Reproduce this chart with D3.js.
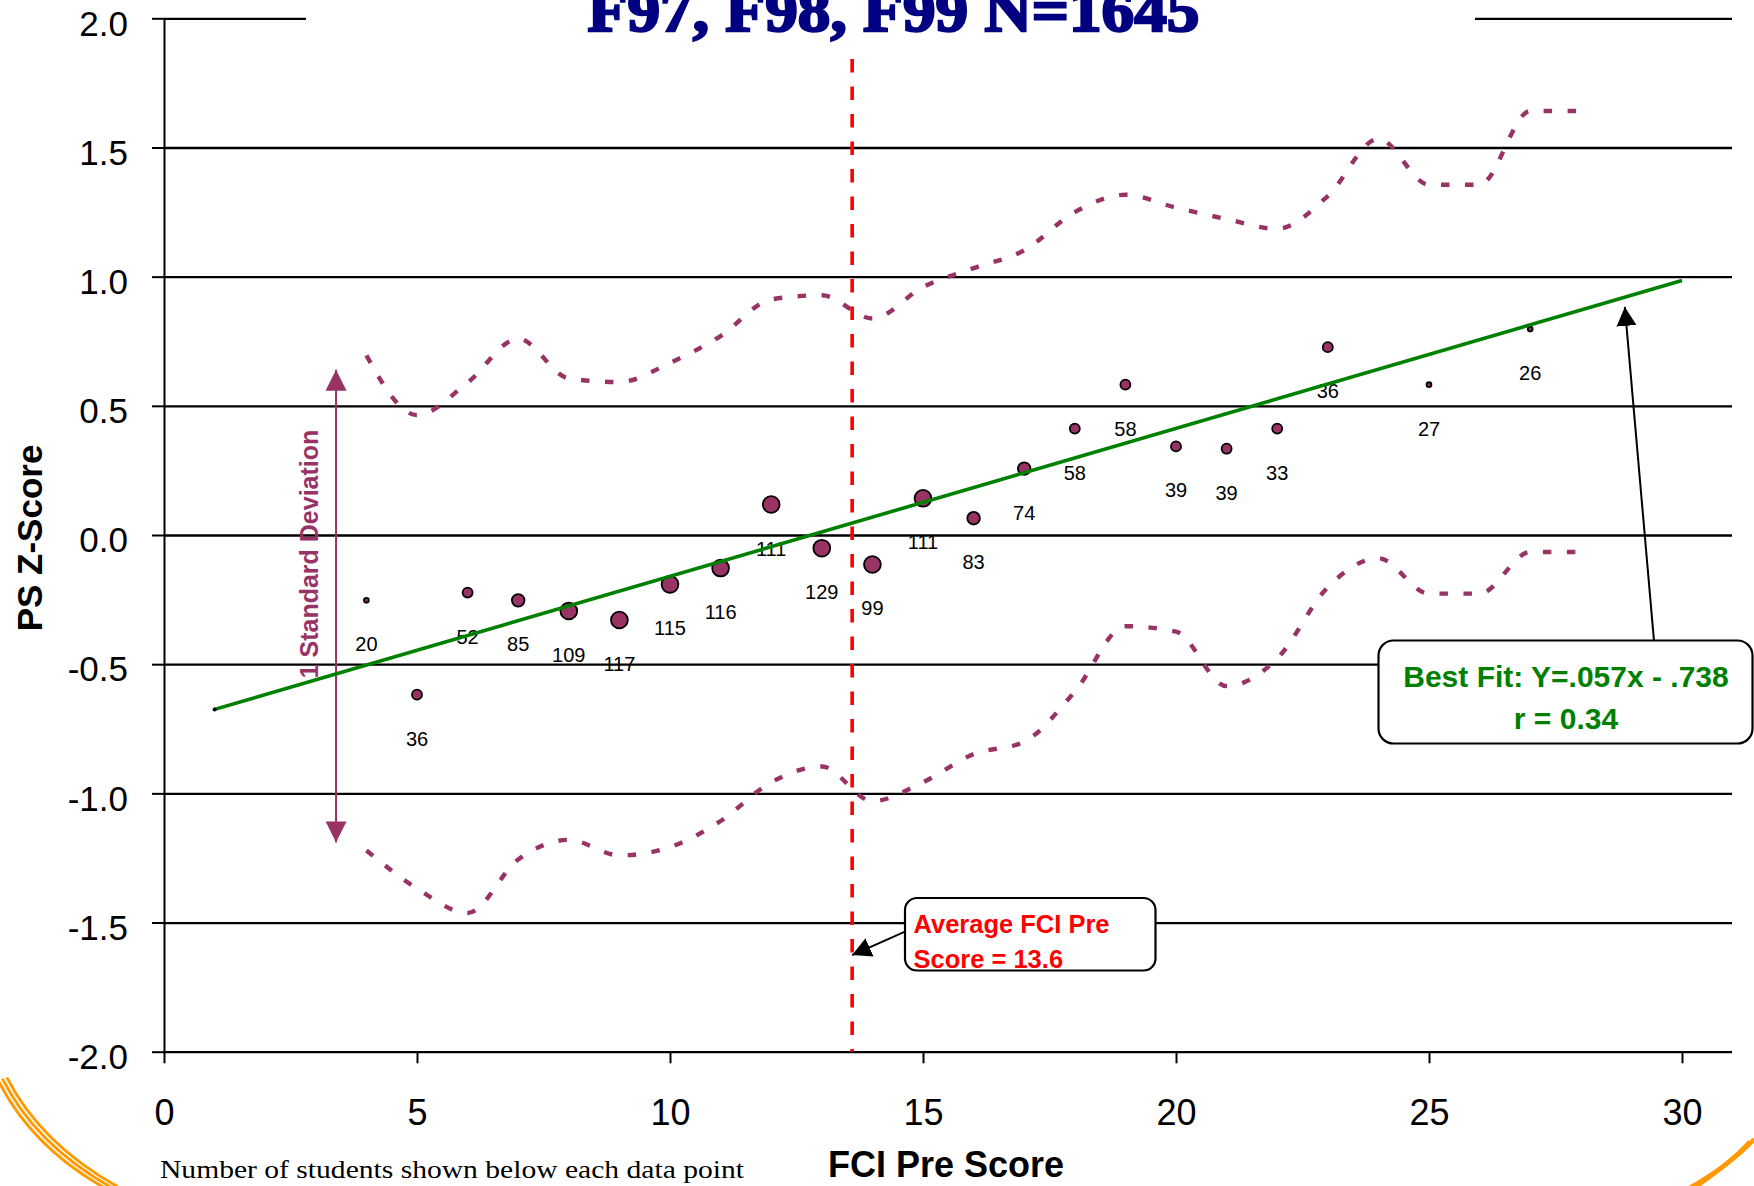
<!DOCTYPE html>
<html><head><meta charset="utf-8">
<script src="https://cdn.jsdelivr.net/npm/d3@7"></script>
<style>
body{margin:0;background:#fff}
svg{display:block}
</style>
</head><body>
<svg id="chart" width="1754" height="1186" style="font-family:'Liberation Sans',Arial,Helvetica,sans-serif"></svg>
<script>
// ---------------- data ----------------
const titleText = "F97, F98, F99  N=1645";
const xTitle = "FCI Pre Score";
const yTitle = "PS Z-Score";
const footnoteText = "Number of students shown below each data point";

const xTickValues = [0, 5, 10, 15, 20, 25, 30];
const xTickLabels = ["0", "5", "10", "15", "20", "25", "30"];
const yTickValues = [2, 1.5, 1, 0.5, 0, -0.5, -1, -1.5, -2];
const yTickLabels = ["2.0", "1.5", "1.0", "0.5", "0.0", "-0.5", "-1.0", "-1.5", "-2.0"];

// mean PS z-score per FCI pre score, with number of students
const pointX = [4, 5, 6, 7, 8, 9, 10, 11, 12, 13, 14, 15, 16, 17, 18, 19, 20, 21, 22, 23, 25, 27];
const pointY = [-0.253, -0.618, -0.223, -0.253, -0.294, -0.329, -0.191, -0.128, 0.118, -0.051, -0.114,
                0.142, 0.065, 0.257, 0.412, 0.582, 0.343, 0.334, 0.412, 0.727, 0.582, 0.797];
const pointN = [20, 36, 52, 85, 109, 117, 115, 116, 111, 129, 99, 111, 83, 74, 58, 58, 39, 39, 33, 36, 27, 26];

// +/- 1 standard deviation band
const bandX = [4, 5, 6, 7, 8, 9, 10, 11, 12, 13, 14, 15, 16, 17, 18, 19, 20, 21, 22, 23, 24, 25, 26, 27, 28];
const bandUpper = [0.695, 0.464, 0.59, 0.76, 0.606, 0.592, 0.666, 0.77, 0.912, 0.928, 0.838, 0.96, 1.033,
                   1.102, 1.25, 1.317, 1.267, 1.223, 1.185, 1.312, 1.534, 1.356, 1.356, 1.641, 1.641];
const bandLower = [-1.221, -1.368, -1.463, -1.256, -1.18, -1.24, -1.208, -1.107, -0.957, -0.896, -1.03, -0.957,
                   -0.848, -0.8, -0.606, -0.353, -0.374, -0.585, -0.478, -0.202, -0.09, -0.227, -0.227, -0.066, -0.066];

// best fit line end points
const fitX = [1, 30];
const fitY = [-0.675, 0.985];
const fitLabel = ["Best Fit: Y=.057x - .738", "r = 0.34"];
const fitArrowTip = [28.87, 0.883];

const avgFCI = 13.6;
const avgLabel = ["Average FCI Pre", "Score = 13.6"];
const avgArrowTipY = -1.626;

const sdLabel = "1 Standard Deviation";
const sdArrowX = 3.4;
const sdArrowY = [0.64, -1.19];

// ---------------- layout ----------------
const SANS = "'Liberation Sans',Arial,Helvetica,sans-serif";
const SERIF = "'Liberation Serif','Times New Roman',serif";
const C = {purple: "#993366", green: "#008000", red: "#ff0000", navy: "#000080", orange: "#ff9900"};
const plotLeft = 164, plotRight = 1732;
const svg = d3.select("#chart");
svg.append("rect").attr("width", 1754).attr("height", 1186).attr("fill", "#fff");

const x = d3.scaleLinear().domain([0, 30]).range([164, 1682]);
const y = d3.scaleLinear().domain([-2, 2]).range([1051.7, 18.3]);

const defs = svg.append("defs");
function marker(id, color, w, l) {
  defs.append("marker").attr("id", id).attr("markerUnits", "userSpaceOnUse")
    .attr("viewBox", `0 ${-w/2} ${l} ${w}`).attr("refX", l).attr("refY", 0)
    .attr("markerWidth", l).attr("markerHeight", w).attr("orient", "auto-start-reverse")
    .append("path").attr("d", `M0,${-w/2} L${l},0 L0,${w/2} Z`).attr("fill", color);
}
marker("arrBlack", "#000", 20, 19);
marker("arrPurple", C.purple, 21, 21);

// ---- grid lines ----
const grid = svg.append("g").attr("transform", `translate(${plotLeft},0)`)
  .call(d3.axisLeft(y).tickValues(yTickValues).tickSize(-(plotRight - plotLeft)).tickFormat(""));
grid.select(".domain").remove();
grid.selectAll(".tick line").attr("stroke", "#000").attr("stroke-width", 2.3);

// ---- y axis ----
const yAxis = svg.append("g").attr("transform", `translate(${plotLeft},0)`)
  .call(d3.axisLeft(y).tickValues(yTickValues).tickFormat((d, i) => yTickLabels[i])
        .tickSize(12).tickSizeOuter(0).tickPadding(24));
yAxis.select(".domain").attr("stroke", "#000").attr("stroke-width", 2);
yAxis.selectAll(".tick line").attr("stroke", "#000").attr("stroke-width", 2);
yAxis.selectAll(".tick text").attr("font-size", 35).attr("dy", "0.48em").attr("fill", "#000")
  .style("font-family", SANS);

// ---- x axis ----
const xAxis = svg.append("g").attr("transform", `translate(0,${y(-2)})`)
  .call(d3.axisBottom(x).tickValues(xTickValues).tickFormat((d, i) => xTickLabels[i])
        .tickSize(11.6).tickSizeOuter(0));
xAxis.select(".domain").remove();
xAxis.selectAll(".tick line").attr("stroke", "#000").attr("stroke-width", 2);
xAxis.selectAll(".tick text").attr("font-size", 36).attr("y", 73.3).attr("dy", 0).attr("fill", "#000")
  .style("font-family", SANS);

// ---- title with white backing box ----
svg.append("rect").attr("x", 306).attr("y", 0).attr("width", 1475 - 306).attr("height", 40).attr("fill", "#fff");
svg.append("text").attr("x", 893.5).attr("y", 31).attr("text-anchor", "middle")
  .style("font-family", SERIF).attr("font-weight", "bold")
  .attr("font-size", 62).attr("fill", C.navy).attr("stroke", C.navy).attr("stroke-width", 2.4)
  .attr("textLength", 612).attr("lengthAdjust", "spacingAndGlyphs")
  .text(titleText);

// ---- standard deviation band ----
const bandLine = (vals) => d3.line().x((d, i) => x(bandX[i])).y(d => y(d)).curve(d3.curveMonotoneX)(vals);
[bandUpper, bandLower].forEach(vals => {
  svg.append("path").attr("d", bandLine(vals)).attr("fill", "none")
    .attr("stroke", C.purple).attr("stroke-width", 4.4).attr("stroke-dasharray", "8.5,15.5");
});

// ---- average FCI line ----
svg.append("line").attr("x1", x(avgFCI)).attr("x2", x(avgFCI)).attr("y1", 59).attr("y2", y(-2))
  .attr("stroke", C.red).attr("stroke-width", 3.6).attr("stroke-dasharray", "13.5,14");

// ---- 1 SD annotation ----
svg.append("line").attr("x1", x(sdArrowX)).attr("x2", x(sdArrowX))
  .attr("y1", y(sdArrowY[0])).attr("y2", y(sdArrowY[1]))
  .attr("stroke", C.purple).attr("stroke-width", 2)
  .attr("marker-start", "url(#arrPurple)").attr("marker-end", "url(#arrPurple)");
svg.append("text").attr("transform", `translate(${x(sdArrowX) - 18},554) rotate(-90)`)
  .attr("text-anchor", "middle").attr("font-weight", "bold").attr("font-size", 25)
  .attr("fill", C.purple).text(sdLabel);

// ---- data points ----
const rScale = d3.scaleThreshold().domain([30, 65, 95]).range([2.4, 5.0, 6.3, 8.4]);
const pts = pointX.map((px, i) => ({x: px, y: pointY[i], n: pointN[i]}));
svg.append("g").selectAll("circle").data(pts).join("circle")
  .attr("cx", d => x(d.x)).attr("cy", d => y(d.y)).attr("r", d => rScale(d.n))
  .attr("fill", C.purple).attr("stroke", "#000").attr("stroke-width", 1.8);
svg.append("g").selectAll("text").data(pts).join("text")
  .attr("x", d => x(d.x)).attr("y", d => y(d.y) + 51).attr("text-anchor", "middle")
  .attr("font-size", 20).attr("fill", "#000").text(d => d.n);

// ---- best fit line ----
svg.append("line").attr("x1", x(fitX[0])).attr("y1", y(fitY[0])).attr("x2", x(fitX[1])).attr("y2", y(fitY[1]))
  .attr("stroke", C.green).attr("stroke-width", 3.6);
svg.append("circle").attr("cx", x(fitX[0])).attr("cy", y(fitY[0])).attr("r", 2).attr("fill", "#000");

// ---- best fit callout ----
svg.append("line").attr("x1", 1654).attr("y1", 641).attr("x2", x(fitArrowTip[0])).attr("y2", y(fitArrowTip[1]))
  .attr("stroke", "#000").attr("stroke-width", 2).attr("marker-end", "url(#arrBlack)");
svg.append("rect").attr("x", 1378.5).attr("y", 640.5).attr("width", 374).attr("height", 103).attr("rx", 15)
  .attr("fill", "#fff").attr("stroke", "#000").attr("stroke-width", 2.2);
fitLabel.forEach((t, i) => {
  svg.append("text").attr("x", 1566).attr("y", i === 0 ? 686.5 : 728.5).attr("text-anchor", "middle")
    .attr("font-weight", "bold").attr("font-size", 30).attr("fill", C.green).text(t);
});

// ---- average callout ----
svg.append("line").attr("x1", 905).attr("y1", 931.7).attr("x2", x(avgFCI)).attr("y2", y(avgArrowTipY))
  .attr("stroke", "#000").attr("stroke-width", 2).attr("marker-end", "url(#arrBlack)");
svg.append("rect").attr("x", 905).attr("y", 898).attr("width", 250.5).attr("height", 72.5).attr("rx", 12)
  .attr("fill", "#fff").attr("stroke", "#000").attr("stroke-width", 2.2);
avgLabel.forEach((t, i) => {
  svg.append("text").attr("x", 913.5).attr("y", i === 0 ? 933.3 : 968.3)
    .attr("font-weight", "bold").attr("font-size", 25.5).attr("fill", C.red).text(t);
});

// ---- axis titles & footnote ----
svg.append("text").attr("transform", "translate(42,538) rotate(-90)").attr("text-anchor", "middle")
  .attr("font-weight", "bold").attr("font-size", 35).attr("fill", "#000").text(yTitle);
svg.append("text").attr("x", 946).attr("y", 1177).attr("text-anchor", "middle")
  .attr("font-weight", "bold").attr("font-size", 36).attr("fill", "#000").text(xTitle);
svg.append("text").attr("x", 160).attr("y", 1178.3)
  .style("font-family", SERIF).attr("font-size", 26)
  .attr("textLength", 584).attr("lengthAdjust", "spacingAndGlyphs").attr("fill", "#000").text(footnoteText);

// ---- slide template ornaments ----
const orn = svg.append("g").attr("fill", "none").attr("stroke", C.orange).attr("stroke-width", 2.8);
[0, 4.4, 8.8].forEach(o => {
  orn.append("path").attr("d", `M${-2 + o},${1080 - o * 0.3} C${18 + o},${1120 - o * 0.4} ${52 + o},${1160 - o * 0.5} ${112 + o},${1192 - o * 0.4}`);
  orn.append("path").attr("d", `M${1758 - o},${1136 + o * 0.6} C${1742 - o},${1154 + o * 0.6} ${1724 - o},${1168 + o * 0.5} ${1690 - o},${1192}`);
});
</script>
</body></html>
